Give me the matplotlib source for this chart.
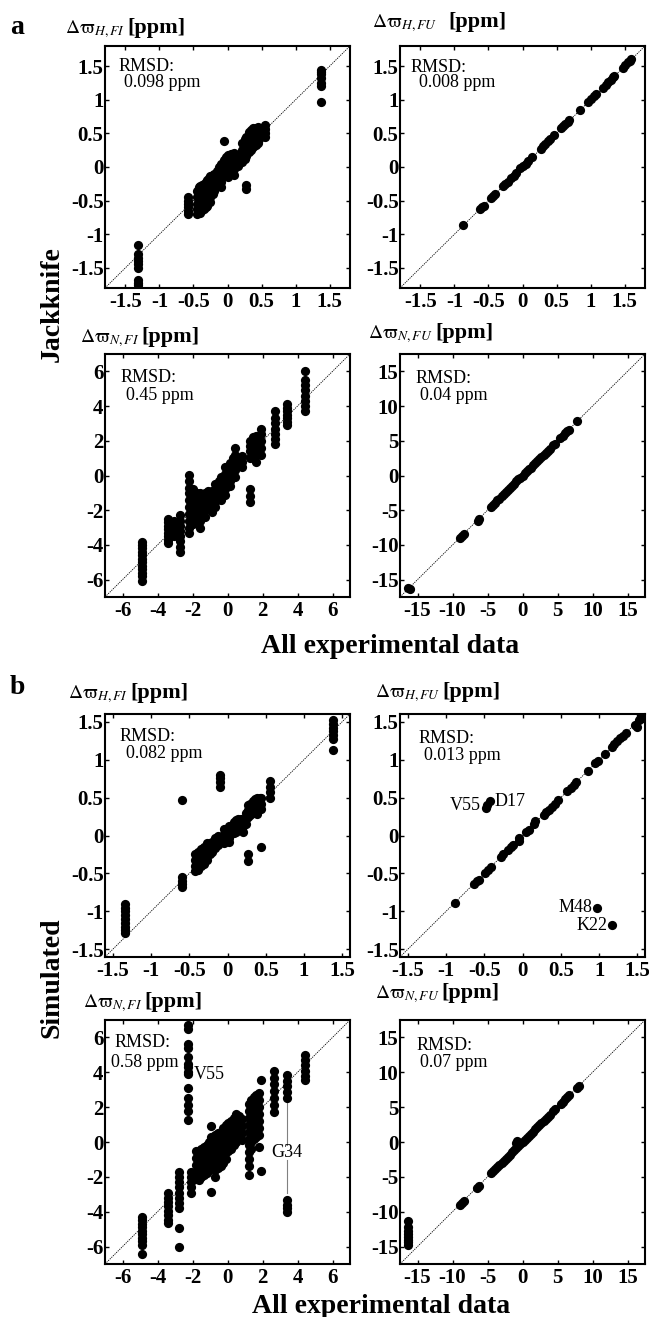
import numpy as np
import matplotlib
matplotlib.use("Agg")
from matplotlib import pyplot as plt

plt.rcParams['font.family'] = ['Liberation Serif', 'DejaVu Serif']
plt.rcParams['mathtext.fontset'] = 'stix'
plt.rcParams['axes.unicode_minus'] = False

W, H = 649, 1317

# ---- data (experimental value, list of predicted values) ----
# a: jackknife, H FI
a_hfi = [(-1.31, [-1.16, -1.30, -1.35, -1.40, -1.45, -1.50, -1.68, -1.72, -1.75]),
         (-0.585, [-0.45, -0.50, -0.55, -0.60, -0.65, -0.70]),
         (-0.45, [-0.35, -0.45, -0.55, -0.62, -0.70]),
         (-0.42, [-0.30, -0.40, -0.50, -0.60, -0.66]),
         (-0.40, [-0.28, -0.38, -0.48, -0.58, -0.68]),
         (-0.37, [-0.27, -0.36, -0.46, -0.56, -0.64]),
         (-0.35, [-0.25, -0.35, -0.45, -0.55, -0.62]),
         (-0.32, [-0.22, -0.31, -0.41, -0.52, -0.60]),
         (-0.30, [-0.20, -0.30, -0.40, -0.50, -0.58]),
         (-0.27, [-0.17, -0.27, -0.37, -0.47]),
         (-0.25, [-0.13, -0.24, -0.34, -0.44, -0.52]),
         (-0.22, [-0.12, -0.22, -0.31, -0.40]),
         (-0.20, [-0.10, -0.19, -0.28, -0.36]),
         (-0.15, [-0.06, -0.16, -0.26]),
         (-0.12, [0.00, -0.09, -0.18, -0.26]),
         (-0.10, [0.05, -0.05, -0.13, -0.22, -0.30]),
         (-0.05, [0.39, 0.10, 0.02, -0.07, -0.14]),
         (-0.02, [0.15, 0.06, -0.03, -0.11]),
         (0.00, [0.18, 0.10, 0.02, -0.06, -0.15]),
         (0.05, [0.20, 0.12, 0.04, -0.05]),
         (0.07, [0.20, 0.10, 0.00, -0.08]),
         (0.10, [0.21, 0.13, 0.05, -0.03, -0.12]),
         (0.15, [0.18, 0.10, 0.02]),
         (0.22, [0.36, 0.26, 0.16, 0.08]),
         (0.25, [0.42, 0.32, 0.22, 0.12]),
         (0.27, [0.45, 0.36, 0.26, 0.17, -0.27, -0.33]),
         (0.32, [0.52, 0.42, 0.32, 0.22]),
         (0.35, [0.55, 0.45, 0.35, 0.25]),
         (0.37, [0.58, 0.49, 0.39, 0.30]),
         (0.42, [0.58, 0.50, 0.42, 0.33]),
         (0.45, [0.60, 0.52, 0.44, 0.36]),
         (0.47, [0.58, 0.50, 0.41]),
         (0.55, [0.63, 0.57, 0.51, 0.45]),
         (1.38, [1.45, 1.42, 1.38, 1.33, 1.25, 1.20, 0.97])]

# a: jackknife, H FU
a_hfu_exp = [-0.87, -0.63, -0.60, -0.57, -0.47, -0.44, -0.40, -0.29, -0.26, -0.22, -0.17,
             -0.13, -0.10, -0.03, 0.00, 0.05, 0.08, 0.14, 0.27, 0.30, 0.33, 0.37, 0.40,
             0.47, 0.57, 0.60, 0.63, 0.67, 0.69, 0.84, 0.96, 1.00, 1.05, 1.08, 1.18, 1.22,
             1.26, 1.30, 1.33, 1.35, 1.47, 1.51, 1.55, 1.58, 1.60]
a_hfu_jk = [-0.86, -0.62, -0.60, -0.58, -0.46, -0.43, -0.40, -0.28, -0.25, -0.22, -0.16,
            -0.13, -0.09, -0.02, 0.01, 0.05, 0.09, 0.15, 0.27, 0.31, 0.34, 0.38, 0.41,
            0.48, 0.58, 0.61, 0.64, 0.67, 0.70, 0.85, 0.97, 1.01, 1.05, 1.08, 1.18, 1.22,
            1.27, 1.30, 1.34, 1.35, 1.48, 1.52, 1.56, 1.58, 1.60]

# a: jackknife, N FI
a_nfi = [(-4.86, [-3.85, -4.0, -4.2, -4.4, -4.6, -4.8, -5.0, -5.2, -5.4, -5.6, -5.8, -6.1]),
         (-3.40, [-2.5, -2.7, -2.9, -3.1, -3.3, -3.5, -3.7, -3.9]),
         (-3.05, [-2.6, -2.9, -3.2, -3.5]),
         (-2.70, [-2.3, -2.6, -2.9, -3.2, -3.5, -3.8, -4.1, -4.4]),
         (-2.20, [0.05, -0.3, -0.7, -1.0, -1.4, -1.8, -2.2, -2.6, -3.0, -3.3]),
         (-2.05, [-0.9, -1.3, -1.7, -2.1, -2.5]),
         (-1.95, [-0.8, -1.2, -1.6, -2.0, -2.4, -2.8]),
         (-1.75, [-1.0, -1.3, -1.7, -2.1, -2.5]),
         (-1.55, [-1.0, -1.4, -1.8, -2.2, -2.6, -3.0]),
         (-1.30, [-1.0, -1.3, -1.6, -2.0, -2.4]),
         (-1.10, [-0.9, -1.2, -1.6, -1.9]),
         (-0.90, [-0.9, -1.2, -1.5, -1.8, -2.1]),
         (-0.70, [-0.5, -0.9, -1.2, -1.5, -1.8]),
         (-0.50, [-0.3, -0.6, -0.9, -1.2]),
         (-0.35, [-0.1, -0.5, -0.8, -1.1, -1.4]),
         (-0.15, [0.5, 0.1, -0.2, -0.5, -0.8, -1.1]),
         (0.00, [0.4, 0.1, -0.3, -0.6]),
         (0.15, [0.7, 0.3, 0.0, -0.3, -0.6]),
         (0.30, [1.0, 0.6, 0.2, -0.1]),
         (0.45, [1.6, 1.2, 0.9, 0.6, 0.3, -0.1]),
         (0.80, [1.1, 0.8, 0.5]),
         (1.30, [-0.75, -1.2, -1.5, 1.0, 1.4, 1.7, 2.0]),
         (1.45, [1.1, 1.5, 1.9, 2.2]),
         (1.60, [0.8, 1.2, 1.6, 2.0, 2.3]),
         (1.90, [1.2, 1.6, 2.0, 2.4, 2.7]),
         (2.70, [1.8, 2.1, 2.4, 2.7, 3.0, 3.3, 3.7]),
         (3.40, [2.9, 3.1, 3.3, 3.5, 3.7, 3.9, 4.1]),
         (4.40, [3.7, 4.0, 4.3, 4.6, 4.9, 5.2, 5.5, 6.0])]

# a: jackknife, N FU
a_nfu = [(-16.3, -16.2), (-16.1, -16.4), (-8.9, -9.0), (-8.7, -8.7), (-8.4, -8.4),
         (-6.4, -6.5), (-6.2, -6.2), (-4.5, -4.5), (-4.2, -4.2), (-3.9, -3.9), (-3.6, -3.6),
         (-3.3, -3.4), (-3.0, -3.0), (-2.7, -2.7), (-2.4, -2.4), (-2.1, -2.1), (-1.8, -1.8),
         (-1.5, -1.5), (-1.2, -1.2), (-0.9, -0.8), (-0.6, -0.5), (-0.3, -0.3), (0.0, 0.0),
         (0.3, 0.3), (0.6, 0.6), (0.9, 0.9), (1.2, 1.1), (1.5, 1.5), (1.8, 1.8), (2.1, 2.1),
         (2.4, 2.4), (2.7, 2.7), (3.0, 3.0), (3.3, 3.3), (3.6, 3.6), (3.9, 3.8), (4.4, 4.4),
         (4.6, 4.6), (5.4, 5.4), (5.8, 5.7), (6.1, 6.1), (6.4, 6.4), (6.7, 6.6), (7.8, 7.8)]

# b: simulated, H FI
b_hfi = [(-1.34, [-0.90, -0.95, -1.00, -1.05, -1.10, -1.15, -1.20, -1.25, -1.29]),
         (-0.59, [0.47, -0.55, -0.60, -0.64, -0.68]),
         (-0.42, [-0.25, -0.32, -0.40, -0.47]),
         (-0.38, [-0.22, -0.30, -0.38, -0.45]),
         (-0.35, [-0.18, -0.25, -0.33, -0.40]),
         (-0.31, [-0.15, -0.22, -0.30, -0.37]),
         (-0.27, [-0.10, -0.17, -0.25, -0.32]),
         (-0.23, [-0.10, -0.17, -0.24]),
         (-0.20, [-0.08, -0.15, -0.22]),
         (-0.16, [-0.03, -0.10, -0.17]),
         (-0.12, [0.00, -0.07, -0.12]),
         (-0.10, [0.64, 0.70, 0.76, 0.80]),
         (-0.05, [0.08, 0.02, -0.05, -0.10]),
         (0.02, [0.12, 0.05, -0.03, -0.08]),
         (0.08, [0.18, 0.10, 0.03]),
         (0.11, [0.20, 0.12, 0.05]),
         (0.14, [0.22, 0.15, 0.08]),
         (0.17, [0.22, 0.15, 0.08]),
         (0.20, [0.20, 0.12, 0.05]),
         (0.24, [0.30, 0.22, 0.15]),
         (0.27, [-0.25, -0.34, 0.25, 0.33, 0.40]),
         (0.30, [0.42, 0.35, 0.27]),
         (0.33, [0.45, 0.38, 0.30]),
         (0.36, [0.48, 0.40, 0.32]),
         (0.39, [0.50, 0.43, 0.36, 0.28]),
         (0.42, [0.50, 0.43, 0.36]),
         (0.44, [-0.15, 0.50, 0.42, 0.35]),
         (0.55, [0.50, 0.57, 0.64, 0.72]),
         (1.38, [1.12, 1.27, 1.32, 1.37, 1.42, 1.47, 1.52])]

# b: simulated, H FU
b_hfu = [(-0.88, -0.89), (-0.63, -0.64), (-0.60, -0.60), (-0.57, -0.58), (-0.49, -0.50),
         (-0.45, -0.45), (-0.41, -0.42), (-0.28, -0.28), (-0.25, -0.24), (-0.19, -0.19),
         (-0.15, -0.15), (-0.12, -0.12), (-0.05, -0.03), (-0.04, -0.07), (0.05, 0.05),
         (0.08, 0.07), (0.15, 0.15), (0.16, 0.19), (0.28, 0.27), (0.31, 0.31), (0.34, 0.34),
         (0.38, 0.38), (0.42, 0.42), (0.47, 0.47), (0.58, 0.58), (0.63, 0.63), (0.67, 0.67),
         (0.70, 0.70), (0.85, 0.85), (0.95, 0.95), (0.98, 0.98), (1.08, 1.07), (1.17, 1.17),
         (1.20, 1.20), (1.24, 1.24), (1.27, 1.28), (1.31, 1.31), (1.35, 1.35), (1.47, 1.46),
         (1.50, 1.43), (1.52, 1.52), (1.55, 1.56), (1.58, 1.60), (1.60, 1.58),
         (-0.48, 0.36), (-0.47, 0.40), (-0.43, 0.45), (0.97, -0.96), (1.17, -1.18)]

# b: simulated, N FI
b_nfi = [(-4.86, [-4.3, -4.5, -4.7, -4.9, -5.1, -5.3, -5.5, -5.7, -5.9, -6.45]),
         (-3.40, [-2.95, -3.2, -3.45, -3.7, -3.95, -4.2, -4.45, -4.67]),
         (-2.80, [-1.7, -2.0, -2.3, -2.6, -2.9, -3.2, -3.5, -3.8, -4.95, -6.05]),
         (-2.25, [6.7, 6.5, 5.6, 5.4, 4.9, 4.5, 4.3, 4.0, 3.9, 3.1, 2.5, 2.1, 1.8, 1.25]),
         (-2.10, [-1.7, -2.0, -2.3, -2.6, -2.9]),
         (-1.80, [-0.5, -0.9, -1.3, -1.7, -2.1]),
         (-1.65, [-0.6, -1.0, -1.4, -1.8, -2.2]),
         (-1.50, [-0.4, -0.8, -1.2, -1.6, -2.0]),
         (-1.35, [-0.3, -0.7, -1.1, -1.5, -1.9]),
         (-1.20, [-0.2, -0.6, -1.0, -1.4, -1.8]),
         (-1.05, [0.0, -0.4, -0.8, -1.2, -1.6]),
         (-0.94, [0.9, 0.3, -0.1, -0.5, -0.9, -1.3, -2.85]),
         (-0.70, [0.4, 0.0, -0.4, -0.8, -1.2, -1.6, -2.0]),
         (-0.55, [0.5, 0.1, -0.3, -0.7, -1.1, -1.5]),
         (-0.40, [0.6, 0.2, -0.2, -0.6, -1.0, -1.4]),
         (-0.25, [0.8, 0.4, 0.0, -0.4, -0.8, -1.2]),
         (-0.10, [1.0, 0.6, 0.2, -0.2, -0.6, -1.0]),
         (0.05, [1.1, 0.7, 0.3, -0.1, -0.5]),
         (0.20, [1.2, 0.8, 0.4, 0.0, -0.4]),
         (0.35, [1.4, 1.0, 0.6, 0.2, -0.2]),
         (0.50, [1.6, 1.2, 0.8, 0.4, 0.0]),
         (0.65, [1.5, 1.1, 0.7, 0.3]),
         (0.80, [1.3, 0.9, 0.5, 0.1]),
         (1.20, [2.2, 1.8, 1.4, 1.0, 0.6, 0.2, -0.2, -0.6, -1.0, -1.4, -1.9]),
         (1.35, [2.4, 2.0, 1.6, 1.2, 0.8, 0.4, 0.0, -0.4]),
         (1.50, [2.6, 2.2, 1.8, 1.4, 1.0, 0.6, 0.2]),
         (1.65, [2.7, 2.3, 1.9, 1.5, 1.1, 0.7, 0.3]),
         (1.80, [2.8, 2.4, 2.0, 1.6, 1.2, 0.8, 0.4, -0.3]),
         (1.93, [-1.65, 3.55]),
         (2.65, [4.1, 3.7, 3.3, 2.9, 2.5, 2.1, 1.74]),
         (3.40, [3.85, 3.5, 3.2, 2.85, 2.5, -3.33, -3.6, -3.8, -4.0]),
         (4.40, [5.0, 4.7, 4.4, 4.1, 3.8, 3.56])]

# b: simulated, N FU
b_nfu_stack = (-16.3, [-11.3, -12.2, -12.7, -13.2, -13.6, -14.0, -14.4, -14.8])
b_nfu = [(-9.0, -9.1), (-8.7, -8.8), (-8.4, -8.5), (-6.5, -6.6), (-6.2, -6.3), (-4.5, -4.5),
         (-4.2, -4.2), (-3.9, -3.9), (-3.6, -3.6), (-3.3, -3.3), (-3.0, -3.0), (-2.7, -2.7),
         (-2.4, -2.4), (-2.1, -2.1), (-1.8, -1.8), (-1.5, -1.5), (-1.2, -1.2), (-0.9, -0.2),
         (-0.8, 0.1), (-0.9, -0.9), (-0.6, -0.6), (-0.3, -0.3), (0.0, 0.0), (0.3, 0.3),
         (0.6, 0.6), (0.9, 0.9), (1.2, 1.2), (1.5, 1.5), (1.8, 1.8), (2.1, 2.1), (2.4, 2.4),
         (2.7, 2.7), (3.0, 3.0), (3.3, 3.3), (3.6, 3.6), (3.9, 3.9), (4.4, 4.5), (4.6, 4.7),
         (5.5, 5.5), (5.8, 5.8), (6.1, 6.1), (6.4, 6.4), (6.7, 6.7), (7.8, 7.8), (8.0, 8.1)]

rmsd = ['0.098', '0.008', '0.45', '0.04', '0.082', '0.013', '0.58', '0.07']
titles = ['H,FI', 'H,FU', 'N,FI', 'N,FU', 'H,FI', 'H,FU', 'N,FI', 'N,FU']
h_ticks = [-1.5, -1, -0.5, 0, 0.5, 1, 1.5]
nfi_ticks = [-6, -4, -2, 0, 2, 4, 6]
nfu_ticks = [-15, -10, -5, 0, 5, 10, 15]


def stacks(data):
    xs = np.concatenate([[e] * len(v) for e, v in data])
    ys = np.concatenate([v for e, v in data])
    return xs, ys


def pairs(data):
    arr = np.array(data)
    return arr[:, 0], arr[:, 1]


def fx(px):
    return px / W


def fy(py):
    return 1 - py / H


fig = plt.figure(figsize=(W / 100, H / 100), dpi=100)

cols = [105, 400]
rows = [(46, 242), (354, 243), (714, 243), (1020, 244)]

sx, sy = pairs(b_nfu)
b_nfu_all = (np.concatenate([sx, [b_nfu_stack[0]] * len(b_nfu_stack[1])]),
             np.concatenate([sy, b_nfu_stack[1]]))

panels = [
    (stacks(a_hfi), 1.8, h_ticks),
    ((np.array(a_hfu_exp), np.array(a_hfu_jk)), 1.8, h_ticks),
    (stacks(a_nfi), 7, nfi_ticks),
    (pairs(a_nfu), 17.5, nfu_ticks),
    (stacks(b_hfi), 1.6, h_ticks),
    (pairs(b_hfu), 1.6, h_ticks),
    (stacks(b_nfi), 7, nfi_ticks),
    (b_nfu_all, 17.5, nfu_ticks),
]

# text positions in pixels: title start, [ppm] start, baseline; rmsd label/value (x, baseline)
title_pos = [(65, 125, 33), (372, 448, 27), (80, 137, 342), (368, 435, 338),
             (68, 128, 698), (375, 440, 697), (83, 140, 1007), (375, 435, 998)]
rmsd_pos = [((119, 71), (124, 87)), ((411, 72), (419, 87)),
            ((121, 382), (126, 400)), ((416, 383), (420, 400)),
            ((120, 741), (126, 758)), ((419, 743), (424, 760)),
            ((115, 1047), (111, 1067)), ((417, 1050), (420, 1067))]

axes = []
math_titles = []
for i, (data, lim, ticks) in enumerate(panels):
    top, hgt = rows[i // 2]
    left = cols[i % 2]
    ax = fig.add_axes([fx(left), fy(top + hgt), 245 / W, hgt / H])
    axes.append(ax)
    ax.plot([-lim, lim], [-lim, lim], color='black', lw=0.6, ls=(0, (1.5, 1.2)), zorder=2)
    ax.scatter(data[0], data[1], s=44, c='black', linewidths=0, zorder=3)
    ax.set_xlim(-lim, lim)
    ax.set_ylim(-lim, lim)
    ax.set_xticks(ticks)
    ax.set_yticks(ticks)
    ax.set_xticklabels(['%g' % t for t in ticks], fontweight='bold')
    ax.set_yticklabels(['%g' % t for t in ticks], fontweight='bold')
    ax.tick_params(direction='in', length=3, width=1, top=True, right=True, labelsize=15)
    ax.tick_params(axis='x', pad=3)
    ax.tick_params(axis='y', pad=1)
    for sp in ax.spines.values():
        sp.set_linewidth(1.5)

    t0, t1, tb = title_pos[i]
    mt = fig.text(fx(t0), fy(tb), r'$\mathrm{\Delta\varpi}_{\mathit{%s}}$' % titles[i],
                  fontsize=14, va='baseline', ha='left')
    math_titles.append(mt)
    (r0x, r0y), (r1x, r1y) = rmsd_pos[i]
    fig.text(fx(r0x), fy(r0y), 'RMSD:', fontsize=13, va='baseline', ha='left')
    fig.text(fx(r1x), fy(r1y), rmsd[i] + ' ppm', fontsize=13, va='baseline', ha='left')

# "[ppm]" right after each symbol, never overlapping it
fig.canvas.draw()
renderer = fig.canvas.get_renderer()
for i, mt in enumerate(math_titles):
    t0, t1, tb = title_pos[i]
    end = mt.get_window_extent(renderer).x1
    xpos = max(t1, end + 2)
    fig.text(fx(xpos), fy(tb), '[ppm]', fontsize=16, fontweight='bold', va='baseline', ha='left')

# residue labels
axb2 = axes[5]
axb2.text(-0.55, 0.40, 'V55', fontsize=13, ha='right', va='center')
axb2.text(-0.36, 0.45, 'D17', fontsize=13, ha='left', va='center')
axb2.text(0.91, -0.95, 'M48', fontsize=13, ha='right', va='center')
axb2.text(1.11, -1.18, 'K22', fontsize=13, ha='right', va='center')

axb3 = axes[6]
axb3.text(-1.9, 3.85, 'V55', fontsize=13, ha='left', va='center')
axb3.text(2.52, -0.61, 'G34', fontsize=13, ha='left', va='center')
axb3.plot([3.4, 3.4], [2.31, -0.17], color='gray', lw=0.8, zorder=2)
axb3.plot([3.4, 3.4], [-1.03, -2.94], color='gray', lw=0.8, zorder=2)

# panel letters and axis labels
fig.text(fx(17), fy(28), 'a', fontsize=20, fontweight='bold', ha='center', va='center')
fig.text(fx(17), fy(687), 'b', fontsize=20, fontweight='bold', ha='center', va='center')
fig.text(fx(52), fy(304), 'Jackknife', fontsize=20, fontweight='bold', rotation=90,
         ha='center', va='center')
fig.text(fx(52), fy(978), 'Simulated', fontsize=20, fontweight='bold', rotation=90,
         ha='center', va='center')
fig.text(fx(390), fy(653), 'All experimental data', fontsize=20, fontweight='bold',
         ha='center', va='baseline')
fig.text(fx(381), fy(1313), 'All experimental data', fontsize=20, fontweight='bold',
         ha='center', va='baseline')

fig.savefig('out.png', dpi=100)
